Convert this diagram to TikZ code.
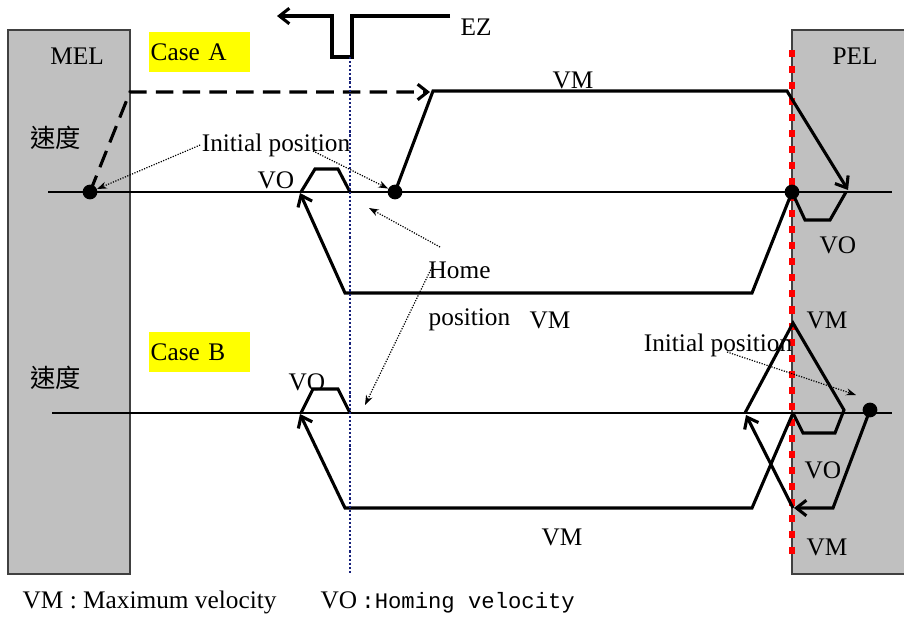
\documentclass[tikz,border=0pt]{standalone}
\usepackage{fontspec}
\setmainfont{Liberation Serif}
\newfontfamily\cjkfont{Noto Sans CJK TC}
\newfontfamily\legmono{Liberation Mono}
\usetikzlibrary{arrows.meta, positioning}
\definecolor{limitfill}{HTML}{C0C0C0}
\definecolor{limitbd}{HTML}{404040}
\definecolor{casebg}{HTML}{FFFF00}
\definecolor{ezblue}{HTML}{16207A}

\begin{document}
\begin{tikzpicture}[
        x=0.025cm, y=-0.025cm,
        font=\fontsize{18}{20}\selectfont,
        limit/.style={
            draw=limitbd,
            fill=limitfill,
            line width=0.8pt
        },
        casebox/.style={
            rectangle,
            fill=casebg,
            anchor=north west,
            text width=2.45cm,
            minimum height=1cm,
            inner xsep=1pt
        },
        axis/.style={line width=1pt},
        trace/.style={line width=2.2pt, line join=miter},
        tracearrow/.style={trace, -{Straight Barb[length=7pt, width=11pt]}},
        note/.style={densely dotted, line width=0.85pt, -{Stealth[length=7pt, width=5pt]}},
        dot/.style={circle, fill=black, inner sep=0pt, minimum size=10.5pt},
        lbl/.style={inner sep=1pt}
    ]
    \useasboundingbox (0,0) rectangle (904,621);

    % Limit switches
    \draw[limit] (8,30) rectangle (130,574);
    \draw[limit] (792,30) rectangle (906,574);
    \node[lbl] (mel) at (77,56) {MEL};
    \node[lbl] (pel) at (855,56) {PEL};

    % Case labels
    \node[casebox] (casea) at (149,32) {Case A};
    \node[casebox] (caseb) at (149,332) {Case B};
    \node[lbl] (speeda) at (56,138) {\cjkfont 速度};
    \node[lbl] (speedb) at (56,378) {\cjkfont 速度};

    % EZ signal
    \node[lbl] (ez) at (476,27) {EZ};
    \coordinate (ezstart) at (450,16);
    \draw[tracearrow] (ezstart) -- (352,16) -- (352,57) -- (332,57) -- (332,16) -- (277,16);

    % Axes
    \draw[axis] (48,192) -- (892,192);
    \draw[axis] (52,413) -- (892,413);

    % PEL edge
    \draw[red, line width=4.5pt, dash pattern=on 5pt off 6.4pt] (792,50) -- (792,556);

    % Case A
    \node[dot] (a0) at (90,192) {};
    \node[dot] (a1) at (395,192) {};
    \node[dot] (a2) at (792,192) {};
    \draw[trace, dash pattern=on 12.5pt off 6.5pt, -{Straight Barb[length=7pt, width=11pt]}]
        (a0.center) -- (130,92) -- (430,92);
    \draw[tracearrow] (a1.center) -- (433,91) -- (787,91) -- (848,190);
    \draw[trace] (846,192) -- (830,220) -- (805,220) -- (a2.center);
    \draw[tracearrow] (a2.center) -- (752,293) -- (345,293) -- (300,193);
    \draw[trace] (301,192) -- (315,169) -- (338,169) -- (350,192);
    \node[lbl] (vma) at (573,80) {VM};
    \node[lbl] (voa) at (276,180) {VO};
    \node[lbl] (voapel) at (838,245) {VO};

    % Case B
    \node[dot] (b0) at (870,410) {};
    \draw[tracearrow] (b0.center) -- (833,508) -- (794,508);
    \draw[tracearrow] (793,508) -- (746,415);
    \draw[trace] (745,413) -- (793,323) -- (844,410) -- (835,433) -- (803,433) -- (793,413);
    \draw[tracearrow] (793,413) -- (752,508) -- (345,508) -- (300,414);
    \draw[trace] (301,413) -- (313,389) -- (338,389) -- (350,413);
    \node[lbl] (vmb) at (562,537) {VM};
    \node[lbl] (vob) at (307,382) {VO};
    \node[lbl] (vmbtop) at (827,320) {VM};
    \node[lbl] (vobpel) at (823,470) {VO};
    \node[lbl] (vmbbot) at (827,547) {VM};

    % Home position marker
    \draw[ezblue, line width=1.5pt, dash pattern=on 1.5pt off 1.4pt] (350,57) -- (350,574);

    % Notes
    \node[lbl] (inia) at (276,145) {Initial position};
    \node[lbl, anchor=west] (home) at (427,270) {Home};
    \node[lbl, anchor=west] (homepos) at (427,320) {position};
    \node[lbl] (vmhome) at (550,320) {VM};
    \node[lbl] (inib) at (718,345) {Initial position};
    \coordinate (iniaout) at (313,151);
    \coordinate (homeup) at (369,208);
    \coordinate (homedown) at (365,405);
    \coordinate (homeouta) at (440,247);
    \coordinate (homeoutb) at (433,265);
    \coordinate (inibout) at (727,352);
    \coordinate (inibtip) at (856,395);
    \draw[note] (inia.west) -- (a0);
    \draw[note] (iniaout) -- (a1);
    \draw[note] (homeouta) -- (homeup);
    \draw[note] (homeoutb) -- (homedown);
    \draw[note] (inibout) -- (inibtip);

    % Legend
    \node[lbl, anchor=west] (legvm) at (21,602) {VM : Maximum velocity};
    \node[lbl, anchor=west] (legvo) at (319,602) {VO\,{\legmono\fontsize{15.8}{18}\selectfont :Homing velocity}};

\end{tikzpicture}
\end{document}
